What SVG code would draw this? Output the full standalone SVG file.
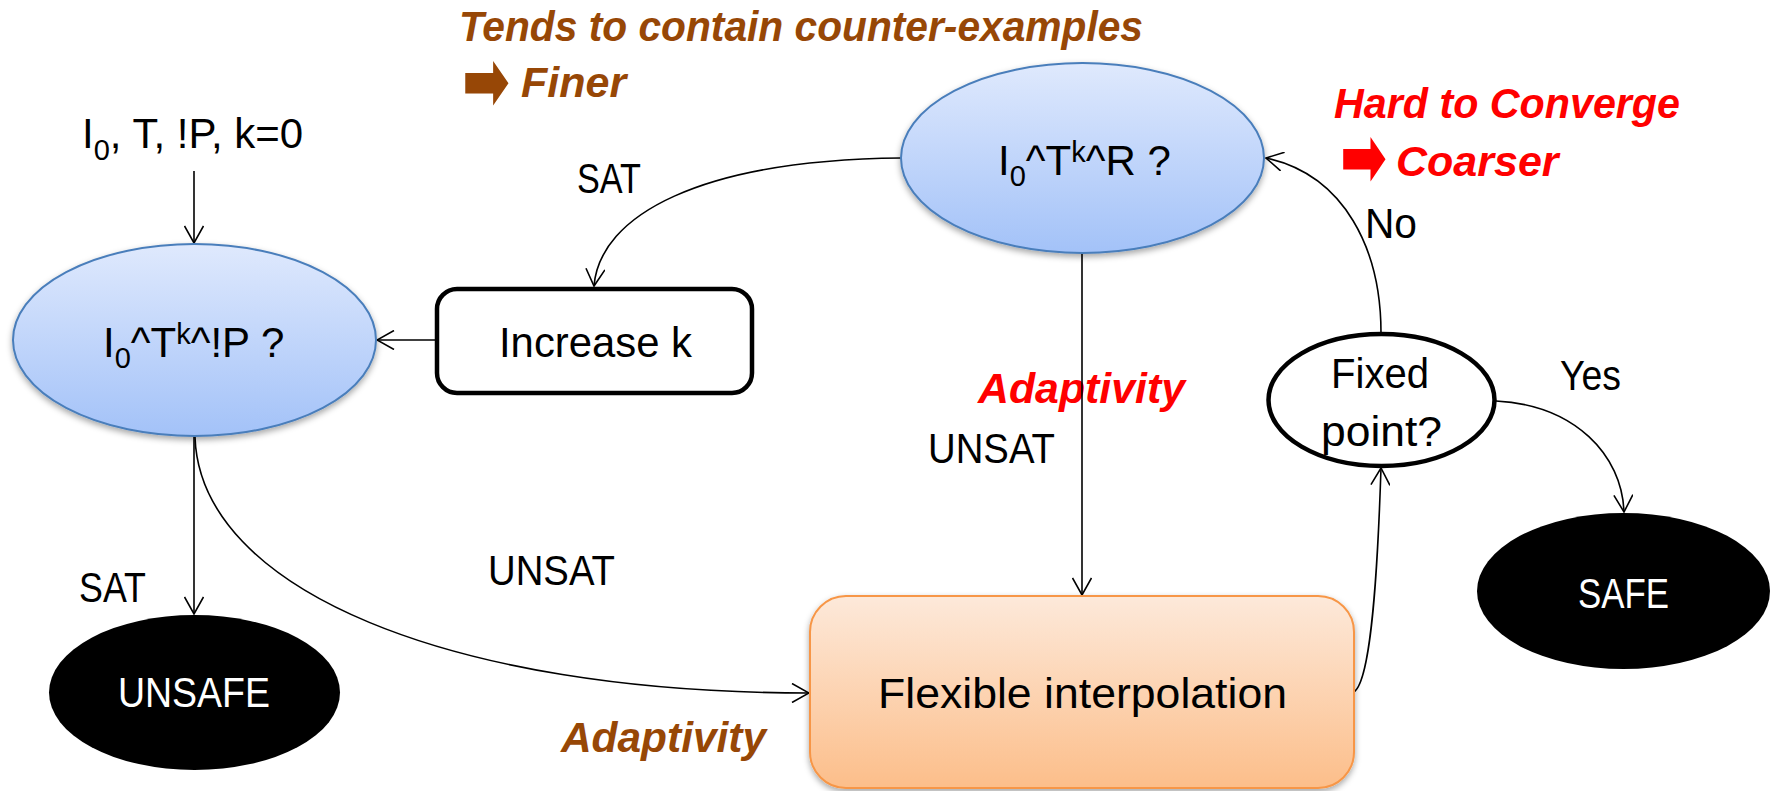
<svg xmlns="http://www.w3.org/2000/svg" width="1778" height="791" viewBox="0 0 1778 791">
  <defs>
    <linearGradient id="blueFill" x1="0" y1="0" x2="0" y2="1">
      <stop offset="0" stop-color="#DFE9FD"/>
      <stop offset="1" stop-color="#A3C2F8"/>
    </linearGradient>
    <linearGradient id="orangeFill" x1="0" y1="0" x2="0" y2="1">
      <stop offset="0" stop-color="#FDE9DA"/>
      <stop offset="1" stop-color="#FCBE8A"/>
    </linearGradient>
    <filter id="shadow" x="-10%" y="-10%" width="120%" height="130%">
      <feDropShadow dx="0" dy="3" stdDeviation="3" flood-color="#000" flood-opacity="0.35"/>
    </filter>
    <marker id="arrow" markerUnits="userSpaceOnUse" viewBox="0 0 20 20" markerWidth="20" markerHeight="20" refX="19" refY="10" orient="auto">
      <path d="M2,0.5 L19,10 L2,19.5" fill="none" stroke="#000" stroke-width="1.6"/>
    </marker>
    <style>
      .lbl { font-family: "Liberation Sans", Arial, sans-serif; font-size: 42px; fill: #000; }
      .inv { font-family: "Liberation Sans", Arial, sans-serif; font-size: 42px; fill: #fff; }
      .note { font-family: "Liberation Sans", Arial, sans-serif; font-size: 43px; font-weight: bold; font-style: italic; }
      .brown { fill: #974706; }
      .red { fill: #FF0000; }
      .arr { font-family: "DejaVu Sans", sans-serif; font-style: normal; font-weight: bold; font-size: 46px; }
      .sub { font-size: 29px; }
      .blue { fill: url(#blueFill); stroke: #4A7EBB; stroke-width: 2; filter: url(#shadow); }
      .dark { fill: #000; stroke: none; }
      .edge { fill: none; stroke: #000; stroke-width: 1.6; marker-end: url(#arrow); }
    </style>
  </defs>

  <rect width="1778" height="791" fill="#fff"/>

  <!-- annotations -->
  <g id="notes">
    <text class="note brown" x="459" y="41" textLength="684" lengthAdjust="spacingAndGlyphs">Tends to contain counter-examples</text>
    <text class="arr brown" x="462" y="97" textLength="48" lengthAdjust="spacingAndGlyphs" transform="matrix(1,0,0,1.8,0,-66)">➡</text>
    <text class="note brown" x="521" y="97">Finer</text>
    <text class="note red" x="1334" y="118" textLength="346" lengthAdjust="spacingAndGlyphs">Hard to Converge</text>
    <text class="arr red" x="1340" y="176" textLength="47" lengthAdjust="spacingAndGlyphs" transform="matrix(1,0,0,1.8,0,-131.7)">➡</text>
    <text class="note red" x="1396" y="176">Coarser</text>
    <text class="note red" x="978" y="403" textLength="207" lengthAdjust="spacingAndGlyphs">Adaptivity</text>
    <text class="note brown" x="561" y="752" textLength="205" lengthAdjust="spacingAndGlyphs">Adaptivity</text>
  </g>

  <!-- connectors -->
  <g id="connectors">
    <line class="edge" x1="194" y1="171" x2="194" y2="243"/>
    <line class="edge" x1="435" y1="340" x2="377" y2="340"/>
    <path class="edge" d="M901,158 C700,160 600,215 594,286"/>
    <line class="edge" x1="194" y1="437" x2="194" y2="614"/>
    <path class="edge" d="M195,437 C200,590 450,693 809,693"/>
    <line class="edge" x1="1082" y1="254" x2="1082" y2="595"/>
    <path class="edge" d="M1354,692 C1372,680 1378,560 1381,468"/>
    <path class="edge" d="M1381,333 C1381,250 1345,175 1266,158"/>
    <path class="edge" d="M1496,401 C1575,405 1622,455 1624,512"/>
  </g>

  <!-- edge labels -->
  <g id="edge-labels">
    <text class="lbl" x="82" y="148">I<tspan class="sub" dy="12">0</tspan><tspan dy="-12">, T, !P, k=0</tspan></text>
    <text class="lbl" x="577" y="193" textLength="64" lengthAdjust="spacingAndGlyphs">SAT</text>
    <text class="lbl" x="79" y="602" textLength="67" lengthAdjust="spacingAndGlyphs">SAT</text>
    <text class="lbl" x="488" y="585" textLength="127" lengthAdjust="spacingAndGlyphs">UNSAT</text>
    <text class="lbl" x="928" y="463" textLength="127" lengthAdjust="spacingAndGlyphs">UNSAT</text>
    <text class="lbl" x="1365" y="238" textLength="52" lengthAdjust="spacingAndGlyphs">No</text>
    <text class="lbl" x="1560" y="390" textLength="61" lengthAdjust="spacingAndGlyphs">Yes</text>
  </g>

  <!-- bounded-check query -->
  <g id="bmc-query">
    <ellipse class="blue" cx="194.5" cy="340" rx="181.5" ry="96"/>
    <text class="lbl" x="103" y="357">I<tspan class="sub" dy="11">0</tspan><tspan dy="-11">^T</tspan><tspan class="sub" dy="-13">k</tspan><tspan dy="13">^!P ?</tspan></text>
  </g>

  <!-- reachability query -->
  <g id="reach-query">
    <ellipse class="blue" cx="1082.5" cy="158" rx="181.5" ry="95"/>
    <text class="lbl" x="998" y="175">I<tspan class="sub" dy="11">0</tspan><tspan dy="-11">^T</tspan><tspan class="sub" dy="-13">k</tspan><tspan dy="13">^R ?</tspan></text>
  </g>

  <!-- increase bound -->
  <g id="increase-k">
    <rect x="437" y="289" width="315" height="104" rx="20" ry="20" fill="#fff" stroke="#000" stroke-width="4.5"/>
    <text class="lbl" x="499" y="357" textLength="193" lengthAdjust="spacingAndGlyphs">Increase k</text>
  </g>

  <!-- interpolation step -->
  <g id="flexible-interpolation">
    <rect x="810" y="596" width="544" height="192" rx="36" ry="36" fill="url(#orangeFill)" stroke="#F79646" stroke-width="2" filter="url(#shadow)"/>
    <text class="lbl" x="878" y="708" textLength="409" lengthAdjust="spacingAndGlyphs">Flexible interpolation</text>
  </g>

  <!-- fixed point check -->
  <g id="fixed-point">
    <ellipse cx="1381.5" cy="400" rx="113" ry="66" fill="#fff" stroke="#000" stroke-width="4.5"/>
    <text class="lbl" x="1331" y="388" font-size="38" textLength="98" lengthAdjust="spacingAndGlyphs">Fixed</text>
    <text class="lbl" x="1321" y="446" font-size="38" textLength="121" lengthAdjust="spacingAndGlyphs">point?</text>
  </g>

  <!-- outcomes -->
  <g id="unsafe">
    <ellipse class="dark" cx="194.5" cy="692.5" rx="145.5" ry="77.5"/>
    <text class="inv" x="118" y="707" textLength="152" lengthAdjust="spacingAndGlyphs">UNSAFE</text>
  </g>
  <g id="safe">
    <ellipse class="dark" cx="1623.5" cy="591" rx="146.5" ry="78"/>
    <text class="inv" x="1578" y="608" textLength="91" lengthAdjust="spacingAndGlyphs">SAFE</text>
  </g>
</svg>
